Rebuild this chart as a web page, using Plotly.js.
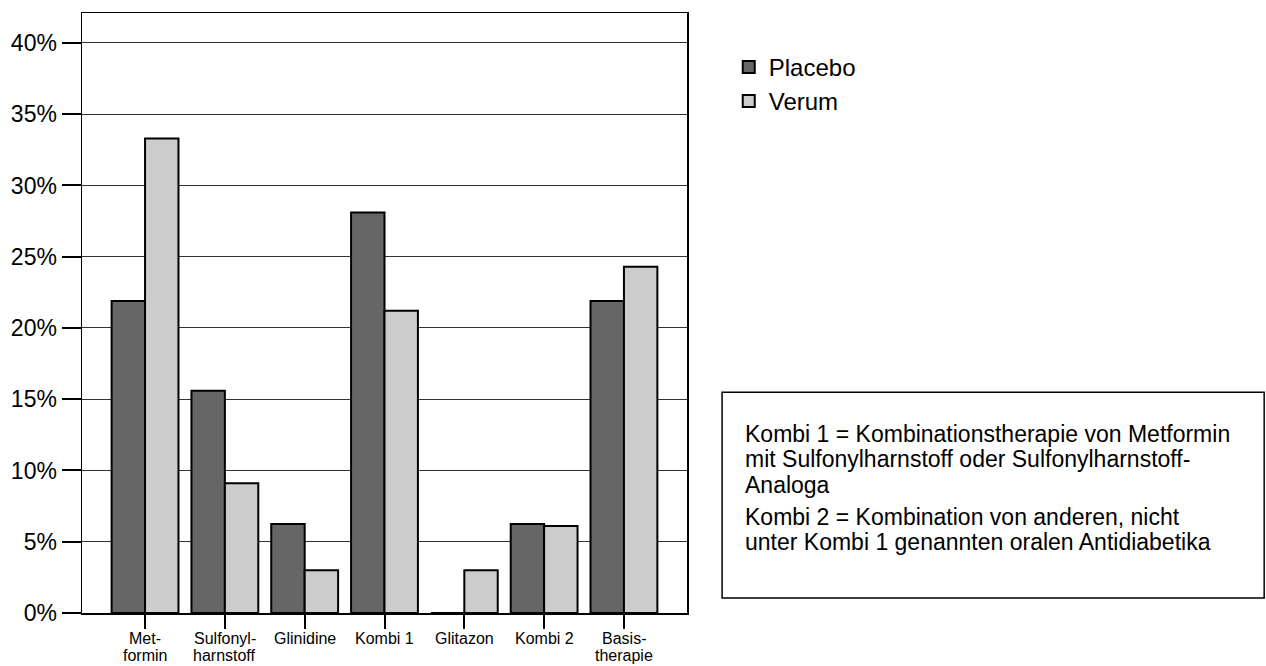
<!DOCTYPE html>
<html>
<head>
<meta charset="utf-8">
<script src="https://cdn.plot.ly/plotly-3.0.1.min.js"></script>
<style>
html, body { margin: 0; padding: 0; background: #ffffff; }
#chart { width: 1266px; height: 666px; }
</style>
</head>
<body>
<div id="chart"></div>
<script>
// ---- data ----
const categories = ["Metformin", "Sulfonylharnstoff", "Glinidine", "Kombi 1", "Glitazon", "Kombi 2", "Basistherapie"];
const tickLine1 = ["Met-", "Sulfonyl-", "Glinidine", "Kombi 1", "Glitazon", "Kombi 2", "Basis-"];
const tickLine2 = ["formin", "harnstoff", "", "", "", "", "therapie"];
const placebo = [21.9, 15.6, 6.25, 28.1, 0, 6.25, 21.9];
const verum = [33.3, 9.1, 3.0, 21.2, 3.0, 6.1, 24.3];
const yTicks = [0, 5, 10, 15, 20, 25, 30, 35, 40];
const noteLines = [
  "Kombi 1 = Kombinationstherapie von Metformin",
  "mit Sulfonylharnstoff oder Sulfonylharnstoff-",
  "Analoga",
  "Kombi 2 = Kombination von anderen, nicht",
  "unter Kombi 1 genannten oralen Antidiabetika"
];

const FONT = "Liberation Sans, Arial, sans-serif";

const traces = [
  {
    type: "bar", name: "Placebo", x: categories, y: placebo,
    marker: { color: "#666666", line: { color: "#000000", width: 2 } },
    hoverinfo: "skip"
  },
  {
    type: "bar", name: "Verum", x: categories, y: verum,
    marker: { color: "#cccccc", line: { color: "#000000", width: 2 } },
    hoverinfo: "skip"
  }
];

const annotations = [];
// category tick labels (two lines each, tight spacing as in the reference)
categories.forEach((c, i) => {
  annotations.push({
    xref: "x", yref: "paper", x: c, y: -0.0433,
    xanchor: "center", yanchor: "middle", showarrow: false,
    text: tickLine1[i], font: { family: FONT, size: 16, color: "#000000" }
  });
  if (tickLine2[i]) {
    annotations.push({
      xref: "x", yref: "paper", x: c, y: -0.0705,
      xanchor: "center", yanchor: "middle", showarrow: false,
      text: tickLine2[i], font: { family: FONT, size: 16, color: "#000000" }
    });
  }
});
// explanatory note lines
const noteY = [0.298, 0.256, 0.214, 0.160, 0.118];
noteLines.forEach((t, i) => {
  annotations.push({
    xref: "paper", yref: "paper", x: 1.0926, y: noteY[i],
    xanchor: "left", yanchor: "middle", showarrow: false,
    text: t, font: { family: FONT, size: 23, color: "#000000" }
  });
});

const layout = {
  width: 1266, height: 666,
  margin: { l: 82, r: 579, t: 13, b: 53 },
  paper_bgcolor: "#ffffff", plot_bgcolor: "#ffffff",
  font: { family: FONT, color: "#000000" },
  barmode: "group", bargap: 0.1625, bargroupgap: 0,
  showlegend: true,
  legend: {
    x: 1.069, y: 0.947, xanchor: "left", yanchor: "top",
    font: { family: FONT, size: 24, color: "#000000" },
    bgcolor: "rgba(0,0,0,0)", borderwidth: 0, tracegroupgap: 0
  },
  xaxis: {
    type: "category", range: [-0.79, 6.79],
    tickmode: "array", tickvals: categories, showticklabels: false,
    ticks: "outside", ticklen: 14, tickwidth: 2, tickcolor: "#000000",
    showline: true, mirror: true, linecolor: "#000000", linewidth: 1.5,
    showgrid: false, zeroline: false, fixedrange: true
  },
  yaxis: {
    range: [0, 42.1],
    tickmode: "array", tickvals: yTicks, ticktext: yTicks.map(v => v + "%"),
    ticks: "outside", ticklen: 19, tickwidth: 2, tickcolor: "#000000",
    tickfont: { family: FONT, size: 23, color: "#000000" },
    showline: true, mirror: true, linecolor: "#000000", linewidth: 1.5,
    showgrid: true, gridcolor: "#333333", gridwidth: 1,
    zeroline: false, fixedrange: true
  },
  shapes: [
    {
      type: "rect", xref: "paper", yref: "paper",
      x0: 1.058, x1: 1.954, y0: 0.025, y1: 0.368,
      line: { color: "#000000", width: 1.5 }, fillcolor: "rgba(0,0,0,0)"
    }
  ],
  annotations: annotations
};

Plotly.newPlot("chart", traces, layout, { displayModeBar: false, staticPlot: true });
</script>
</body>
</html>
